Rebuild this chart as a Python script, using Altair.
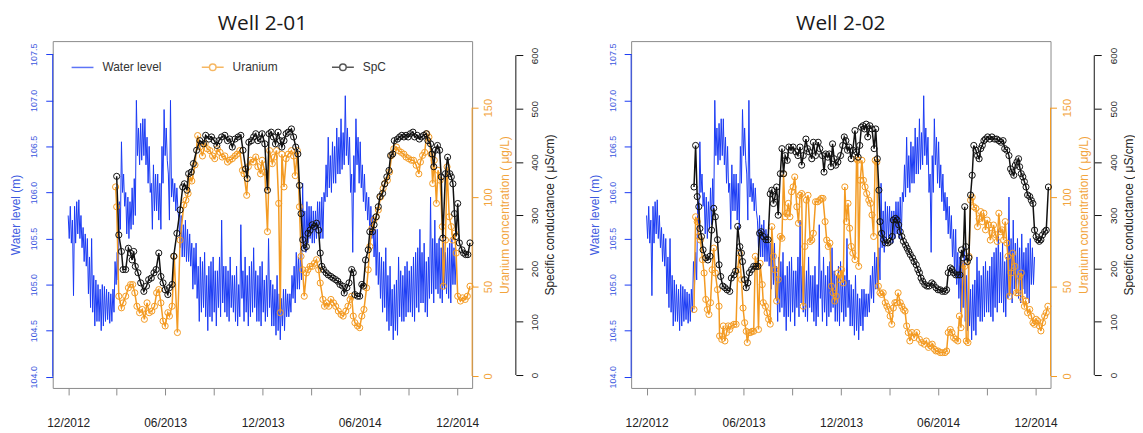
import altair as alt
import pandas as pd

START = pd.Timestamp("2012-12-01")

# ---------------- water level (m), same record shown in both panels, every 2 days from START
WL_STEP_DAYS = 2
wl_values = [
    105.75, 105.50, 105.85, 105.45, 105.70, 104.88, 105.85, 105.45, 105.90, 105.55,
    105.92, 105.50, 105.75, 105.40, 105.62, 105.25, 105.55, 105.20, 105.50, 104.90,
    105.30, 104.75, 105.50, 104.70, 105.10, 104.55, 105.05, 104.60, 105.00, 104.60,
    104.95, 104.50, 105.00, 104.55, 104.98, 104.60, 104.95, 104.62, 104.92, 104.58,
    104.90, 104.60, 104.95, 104.70, 105.25, 105.00, 105.35, 105.05, 105.90, 105.60,
    106.55, 106.00, 106.20, 105.85, 106.00, 105.55, 105.95, 105.50, 105.90, 105.60,
    106.05, 105.65, 106.15, 105.75, 107.00, 106.40, 106.70, 106.30, 106.75, 106.35,
    106.80, 106.40, 106.80, 106.30, 106.60, 106.10, 106.50, 106.00, 106.10, 105.60,
    106.30, 105.80, 106.20, 105.80, 106.20, 105.70, 106.10, 105.60, 106.50, 106.10,
    106.90, 106.40, 106.70, 106.35, 106.20, 105.70, 107.00, 105.95, 106.15, 105.90,
    106.10, 105.80, 106.05, 105.80, 105.70, 105.40, 105.75, 105.30, 105.65, 105.30,
    105.70, 105.25, 105.60, 105.25, 105.55, 105.20, 105.45, 104.95, 105.40, 105.00,
    105.45, 104.85, 105.20, 104.60, 105.30, 104.70, 105.25, 104.75, 105.35, 104.65,
    105.10, 104.50, 105.20, 104.65, 105.25, 104.60, 105.30, 104.70, 105.15, 104.55,
    105.15, 104.75, 105.30, 104.65, 105.70, 104.80, 105.20, 104.70, 105.20, 104.65,
    105.15, 104.60, 105.30, 104.75, 105.10, 104.70, 105.10, 104.60, 105.20, 104.55,
    105.00, 104.65, 105.65, 104.85, 105.15, 104.60, 105.30, 104.70, 105.10, 104.55,
    105.20, 104.65, 105.25, 104.70, 105.40, 104.75, 105.15, 104.60, 105.10, 104.60,
    105.20, 104.55, 105.25, 104.70, 105.05, 104.60, 105.10, 104.65, 105.50, 104.75,
    105.05, 104.55, 105.00, 104.55, 104.95, 104.45, 105.10, 104.50, 104.90, 104.40,
    104.85, 104.55, 104.95, 104.50, 104.95, 104.65, 104.90, 104.65, 104.90, 104.70,
    105.10, 104.85, 105.20, 104.80, 105.35, 104.95, 105.30, 104.95, 105.40, 105.05,
    106.10, 105.40, 105.80, 105.35, 105.90, 105.45, 105.85, 105.50, 105.85, 105.45,
    105.80, 105.45, 105.80, 105.50, 105.90, 105.55, 105.90, 105.50, 105.95, 105.50,
    106.00, 105.90, 106.30, 105.95, 106.60, 106.05, 106.40, 106.00, 106.55, 106.10,
    106.50, 106.10, 106.70, 106.20, 106.60, 106.20, 106.80, 106.25, 106.65, 106.30,
    107.05, 106.40, 106.70, 106.30, 106.60, 106.00, 106.20, 105.35, 106.40, 106.00,
    106.80, 106.30, 106.60, 106.10, 106.55, 106.05, 106.30, 105.90, 106.20, 105.80,
    106.00, 105.70, 105.95, 105.55, 105.85, 105.50, 105.75, 105.30, 105.60, 105.10,
    105.60, 105.00, 105.35, 104.85, 105.30, 104.70, 105.25, 104.75, 105.40, 104.60,
    105.10, 104.50, 105.20, 104.55, 104.95, 104.40, 105.00, 104.50, 105.05, 104.45,
    105.30, 104.65, 105.15, 104.60, 105.10, 104.60, 105.20, 104.65, 105.25, 104.70,
    105.15, 104.70, 105.20, 104.65, 105.30, 104.60, 105.35, 104.75, 105.40, 104.70,
    105.60, 104.80, 105.35, 104.80, 105.45, 104.70, 105.25, 104.65, 105.30, 104.85,
    105.95, 104.90, 105.50, 104.80, 105.70, 104.95, 105.45, 104.90, 105.50, 104.85,
    105.40, 104.80, 105.55, 104.95, 105.35, 104.90, 105.40, 104.85, 105.45, 104.80,
    105.50, 105.00, 105.40, 105.00, 105.30,
]

# ---------------- Well 2-01 (days after START)
u1_days = [
    89, 91, 95, 100, 103, 108, 113, 117, 121, 125,
    129, 134, 139, 143, 148, 152, 157, 162, 166, 170,
    174, 178, 182, 187, 190, 195, 199, 205, 210, 217,
    221, 225, 229, 232, 238, 243, 247, 252, 257, 261,
    266, 271, 275, 280, 285, 289, 294, 299, 303, 308,
    313, 317, 322, 327, 330, 335, 338, 342, 347, 352,
    356, 361, 364, 369, 374, 378, 383, 387, 391, 395,
    398, 401, 405, 409, 413, 419, 423, 426, 430, 434,
    437, 440, 443, 447, 450, 454, 458, 462, 466, 470,
    473, 478, 481, 485, 489, 493, 498, 502, 507, 512,
    516, 521, 525, 529, 532, 535, 538, 543, 547, 551,
    555, 560, 563, 566, 570, 574, 578, 582, 586, 591,
    594, 599, 603, 607, 611, 616, 620, 625, 630, 634,
    639, 644, 648, 653, 658, 661, 665, 669, 673, 677,
    681, 684, 687, 691, 694, 698, 702, 704, 708, 711,
    715, 719, 722, 725, 728, 731, 736, 740, 745, 749, 754,
]
u1_values = [
    105.7, 94.6, 44.6, 38.1, 40.9, 44.6, 49.3, 51.1, 51.1, 46.5,
    39.0, 35.4, 37.2, 31.7, 40.9, 35.4, 36.3, 39.0, 46.5, 48.3,
    40.9, 30.7, 28.0, 35.4, 33.5, 39.0, 66.9, 24.3, 76.0, 95.6,
    98.3, 102.0, 111.0, 109.0, 118.0, 134.4, 128.0, 123.0, 130.0, 127.0,
    126.0, 123.0, 121.5, 127.0, 125.0, 122.4, 123.0, 119.6, 120.6, 121.5,
    123.0, 124.0, 126.0, 115.0, 113.0, 101.0, 117.0, 120.6, 119.6, 122.4,
    117.0, 113.0, 120.6, 114.0, 80.7, 126.0, 118.7, 122.4, 126.0, 96.5,
    35.4, 124.0, 105.7, 121.5, 124.0, 126.0, 123.0, 112.0, 126.0, 94.6,
    66.9, 59.4, 44.6, 57.6, 59.4, 61.3, 61.3, 63.0, 65.0, 59.4,
    52.0, 42.8, 39.0, 40.9, 39.0, 42.8, 40.9, 39.0, 36.3, 34.4,
    33.5, 36.3, 39.0, 42.8, 44.6, 33.5, 29.8, 28.0, 27.0, 33.5,
    37.2, 49.3, 59.4, 72.4, 82.6, 87.2, 89.0, 92.8, 100.0, 104.8,
    107.6, 109.4, 114.0, 123.3, 127.0, 128.0, 126.0, 125.0, 124.0, 122.4,
    121.5, 120.6, 120.6, 117.8, 113.0, 119.6, 123.3, 125.0, 135.4, 133.5,
    124.0, 107.6, 120.6, 96.5, 115.0, 109.4, 83.5, 50.2, 76.0, 116.9,
    89.0, 83.5, 76.0, 79.8, 68.7, 44.6, 41.9, 43.7, 42.8, 44.6, 50.2,
]
spc1_days = [
    91, 95, 100, 103, 108, 113, 117, 120, 123, 126,
    131, 136, 142, 147, 151, 156, 161, 165, 170, 174,
    178, 182, 187, 190, 195, 198, 204, 210, 215, 218,
    223, 226, 231, 235, 241, 247, 254, 258, 264, 269,
    274, 279, 283, 288, 294, 299, 303, 308, 313, 319,
    324, 328, 333, 336, 339, 344, 348, 352, 356, 361,
    364, 369, 374, 377, 381, 385, 389, 394, 398, 401,
    405, 409, 413, 419, 423, 427, 431, 434, 437, 440,
    443, 447, 450, 454, 458, 462, 466, 470, 473, 476,
    479, 484, 488, 493, 497, 502, 506, 510, 515, 518,
    523, 527, 532, 535, 538, 543, 547, 551, 554, 558,
    563, 566, 571, 574, 578, 582, 585, 590, 594, 598,
    602, 605, 609, 612, 618, 622, 626, 630, 634, 638,
    642, 647, 650, 655, 659, 663, 667, 672, 675, 680,
    683, 686, 689, 693, 697, 700, 703, 708, 712, 716,
    719, 722, 725, 728, 731, 734, 739, 742, 746, 750, 754,
]
spc1_values = [
    373, 263, 232, 198, 198, 238, 229, 216, 232, 204,
    192, 173, 157, 167, 179, 182, 192, 198, 229, 185,
    173, 160, 151, 164, 170, 223, 266, 310, 353, 359,
    347, 378, 381, 397, 422, 440, 434, 450, 443, 447,
    440, 431, 440, 447, 450, 440, 443, 428, 443, 447,
    450, 422, 387, 369, 437, 440, 447, 453, 440, 443,
    453, 434, 347, 453, 456, 447, 434, 456, 440, 428,
    440, 453, 456, 462, 447, 428, 415, 356, 303, 254,
    238, 241, 266, 272, 282, 279, 285, 272, 229, 204,
    198, 192, 188, 185, 182, 179, 176, 170, 167, 154,
    164, 173, 198, 192, 151, 148, 148, 170, 167, 216,
    235, 269, 269, 282, 297, 316, 335, 341, 359, 372,
    384, 412, 415, 440, 443, 447, 450, 447, 450, 447,
    453, 456, 447, 450, 443, 447, 450, 453, 440, 434,
    415, 391, 422, 431, 422, 372, 257, 378, 409, 378,
    372, 359, 303, 260, 322, 248, 235, 229, 226, 226, 248,
]

# ---------------- Well 2-02 (days after START)
u2_days = [
    89, 92, 95, 98, 101, 105, 108, 111, 114, 117,
    120, 123, 126, 129, 133, 136, 137, 141, 144, 147,
    150, 153, 156, 159, 164, 168, 171, 174, 178, 181,
    184, 187, 189, 192, 195, 198, 201, 204, 207, 210,
    213, 217, 219, 223, 226, 229, 232, 235, 238, 241,
    244, 247, 251, 254, 257, 260, 263, 266, 269, 272,
    275, 278, 282, 285, 288, 291, 294, 297, 300, 303,
    307, 310, 313, 317, 321, 325, 328, 331, 335, 338,
    341, 344, 347, 350, 353, 356, 359, 363, 366, 369,
    372, 375, 378, 381, 384, 387, 391, 394, 396, 398,
    401, 404, 407, 410, 413, 417, 420, 423, 426, 429,
    432, 435, 438, 441, 444, 448, 451, 454, 457, 460,
    463, 466, 469, 472, 476, 479, 482, 485, 488, 491,
    494, 498, 502, 507, 512, 516, 521, 525, 529, 533,
    536, 540, 543, 547, 551, 555, 560, 563, 566, 570,
    573, 576, 580, 584, 587, 590, 594, 597, 600, 603,
    605, 608, 611, 614, 618, 621, 624, 627, 630, 633,
    636, 639, 642, 645, 648, 651, 655, 658, 661, 664,
    667, 670, 673, 676, 678, 681, 684, 687, 691, 694,
    697, 700, 703, 706, 709, 712, 715, 719, 722, 725,
    728, 731, 734, 737, 740, 743, 747, 750, 753,
]
u2_values = [
    37.2, 89.0, 86.3, 78.0, 76.0, 65.0, 57.6, 42.8, 37.2, 34.4,
    41.0, 59.4, 71.5, 57.6, 48.3, 39.0, 22.4, 20.5, 28.0, 19.6,
    24.3, 28.0, 26.0, 28.0, 28.9, 28.9, 59.4, 68.7, 53.9, 38.0,
    29.8, 25.0, 18.7, 24.3, 24.3, 25.0, 25.0, 66.9, 61.3, 26.0,
    63.0, 51.1, 41.0, 39.0, 35.4, 31.7, 29.0, 83.5, 66.9, 59.4,
    41.9, 53.9, 78.0, 77.0, 113.0, 89.0, 91.0, 96.5, 89.0, 103.0,
    105.7, 111.3, 94.6, 85.4, 101.0, 102.0, 39.0, 72.4, 98.3, 101.0,
    75.2, 76.0, 79.8, 97.4, 97.4, 98.3, 99.3, 99.3, 86.3, 76.0,
    72.4, 74.3, 50.2, 46.5, 41.9, 44.6, 57.6, 53.9, 59.4, 52.0,
    105.7, 86.3, 96.5, 82.6, 72.4, 68.7, 65.0, 121.5, 120.6, 61.3,
    109.4, 120.6, 109.4, 105.7, 102.0, 98.3, 96.5, 90.0, 78.0, 120.6,
    119.6, 50.2, 46.5, 45.6, 46.5, 41.0, 39.0, 37.2, 33.5, 28.9,
    38.0, 41.0, 41.0, 46.5, 41.0, 39.0, 37.2, 36.3, 28.0, 24.3,
    19.6, 24.3, 21.5, 24.3, 20.5, 18.7, 17.8, 19.6, 16.0, 16.9,
    17.8, 15.0, 14.0, 14.0, 13.1, 13.1, 13.1, 14.0, 24.3, 26.0,
    24.3, 21.5, 20.5, 19.6, 33.5, 27.0, 62.2, 61.3, 19.6, 18.7,
    66.9, 98.3, 100.0, 94.6, 93.7, 83.5, 88.0, 91.9, 86.3, 91.0,
    81.7, 87.2, 84.4, 76.0, 79.8, 84.4, 79.0, 75.2, 91.0, 80.7,
    81.7, 76.0, 86.3, 74.3, 66.9, 44.6, 57.6, 68.7, 61.3, 46.5,
    46.5, 55.7, 57.6, 42.8, 39.0, 41.9, 35.4, 37.2, 33.5, 29.8,
    28.9, 31.7, 30.8, 28.0, 25.2, 29.8, 33.5, 35.4, 39.0,
]
spc2_days = [
    89, 92, 95, 98, 100, 103, 106, 111, 115, 119,
    122, 126, 129, 133, 136, 139, 143, 147, 151, 156,
    159, 164, 167, 171, 175, 178, 180, 184, 187, 190,
    193, 197, 201, 205, 209, 212, 215, 219, 224, 228,
    232, 235, 238, 241, 244, 247, 251, 254, 257, 260,
    264, 267, 271, 275, 280, 284, 288, 291, 294, 299,
    302, 305, 310, 313, 317, 322, 325, 330, 333, 336,
    340, 343, 346, 349, 352, 355, 359, 364, 368, 371,
    374, 377, 380, 384, 387, 391, 394, 397, 400, 403,
    406, 409, 412, 415, 419, 423, 427, 430, 433, 436,
    438, 441, 445, 448, 453, 457, 461, 463, 467, 470,
    473, 476, 479, 482, 486, 489, 492, 495, 499, 502,
    506, 509, 512, 515, 518, 522, 526, 530, 535, 538,
    543, 547, 551, 555, 560, 563, 566, 570, 573, 576,
    580, 584, 588, 591, 594, 597, 599, 602, 605, 608,
    611, 614, 618, 621, 624, 627, 630, 633, 636, 640,
    644, 648, 653, 657, 661, 665, 669, 672, 676, 680,
    683, 686, 689, 692, 695, 698, 700, 703, 706, 709,
    712, 715, 719, 722, 725, 728, 731, 734, 737, 740,
    743, 747, 750, 754,
]
spc2_values = [
    353, 431, 335, 316, 275, 260, 235, 220, 216, 223,
    272, 313, 297, 254, 207, 185, 167, 164, 160, 157,
    182, 188, 195, 279, 241, 229, 213, 179, 164, 173,
    192, 198, 204, 204, 204, 266, 269, 260, 254, 254,
    340, 347, 322, 335, 353, 300, 378, 425, 378, 412,
    403, 428, 422, 428, 419, 412, 428, 394, 412, 443,
    425, 419, 406, 437, 412, 437, 425, 412, 381, 415,
    409, 415, 391, 434, 406, 394, 400, 412, 431, 447,
    440, 422, 428, 406, 422, 459, 419, 409, 431, 465,
    468, 462, 471, 447, 468, 462, 425, 462, 406, 347,
    288, 266, 254, 248, 248, 251, 260, 291, 294, 291,
    282, 269, 260, 251, 244, 238, 232, 226, 220, 213,
    207, 198, 192, 182, 176, 170, 167, 167, 173, 170,
    164, 160, 160, 157, 157, 160, 192, 201, 198, 192,
    188, 188, 188, 235, 220, 316, 241, 213, 220, 338,
    375, 431, 422, 412, 406, 425, 431, 440, 443, 447,
    443, 447, 443, 443, 440, 437, 440, 425, 422, 412,
    387, 381, 375, 394, 400, 406, 391, 378, 372, 363,
    353, 338, 335, 328, 322, 272, 260, 254, 251, 254,
    263, 269, 272, 353,
]

TITLES = ["Well 2-01", "Well 2-02"]
SERIES = ["Water level", "Uranium", "SpC"]
WL_TICKS = [104.0, 104.5, 105.0, 105.5, 106.0, 106.5, 107.0, 107.5]
U_TICKS = [0, 50, 100, 150]
SPC_TICKS = [0, 100, 200, 300, 400, 500, 600]
TICK_MONTHS = [(2012, 12), (2013, 3), (2013, 6), (2013, 9), (2013, 12),
               (2014, 3), (2014, 6), (2014, 9), (2014, 12)]

# ---------------- style
BLUE = "#1a3af4"
BLUE_TXT = "#3d5ae0"
ORANGE = "#f39a22"
ORANGE_TXT = "#f2a43c"
BLACK = "#111111"
GRAY = "#8a8a8a"
FONT = "Liberation Sans"
PW, PH = 422, 349

LINE_SYM = "M-1,0L1,0"
LINE_CIRCLE_SYM = ("M-1,0L-0.3,0M0.3,0L1,0M0.3,0A0.3,0.3,0,1,1,-0.3,0"
                   "A0.3,0.3,0,1,1,0.3,0")


def dated(days, values, col):
    return pd.DataFrame({"date": [START + pd.Timedelta(days=d) for d in days], col: values})


wl_df = pd.DataFrame({
    "date": pd.date_range(START, periods=len(wl_values), freq=f"{WL_STEP_DAYS}D"),
    "wl": wl_values,
})

x_enc = alt.X(
    "date:T", title=None,
    scale=alt.Scale(domain=[alt.DateTime(year=2012, month=11, date=2),
                            alt.DateTime(year=2014, month=12, date=29)]),
    axis=alt.Axis(
        values=[alt.DateTime(year=y, month=m, date=1) for y, m in TICK_MONTHS],
        labelExpr="month(datum.value) % 6 == 5 ? timeFormat(datum.value, '%m/%Y') : ''",
        domain=False, grid=False, tickColor=GRAY, tickSize=7, tickWidth=1,
        labelFont=FONT, labelFontSize=12, labelColor="#222222", labelPadding=23,
        labelOverlap=False, labelFlush=False,
    ),
)

wl_axis = alt.Axis(
    orient="left", values=WL_TICKS, format=".1f", domain=False, grid=False,
    tickColor=BLUE, tickSize=7, labelAngle=270, labelAlign="center", labelBaseline="bottom",
    labelColor=BLUE_TXT, labelFont=FONT, labelFontSize=9, labelPadding=7,
    labelOverlap=False, labelFlush=False,
    title="Water level (m)", titleColor=BLUE_TXT, titleFont=FONT, titleFontSize=12,
    titleFontWeight="normal", titleAngle=270, titleX=-37, titleY=PH / 2,
    titleAlign="center", titleBaseline="middle",
)
u_axis = alt.Axis(
    orient="right", values=U_TICKS, domain=False, grid=False,
    tickColor=ORANGE, tickSize=6, labelAngle=270, labelAlign="center", labelBaseline="top",
    labelColor=ORANGE_TXT, labelFont=FONT, labelFontSize=11, labelPadding=5,
    labelOverlap=False, labelFlush=False,
    title="Uranium concentration ( \u03bcg/L)", titleColor=ORANGE_TXT, titleFont=FONT,
    titleFontSize=12, titleFontWeight="normal", titleAngle=270, titleX=33, titleY=PH / 2,
    titleAlign="center", titleBaseline="middle",
)
spc_axis = alt.Axis(
    orient="right", offset=44, values=SPC_TICKS, domain=False, grid=False,
    tickColor=BLACK, tickSize=7, labelAngle=270, labelAlign="center", labelBaseline="top",
    labelColor="#222222", labelFont=FONT, labelFontSize=10, labelPadding=7,
    labelOverlap=False, labelFlush=False,
    title="Specific conductance ( \u03bcS/cm)", titleColor="#222222", titleFont=FONT,
    titleFontSize=12, titleFontWeight="normal", titleAngle=270, titleX=34, titleY=PH / 2,
    titleAlign="center", titleBaseline="middle",
)

wl_scale = alt.Scale(domain=[103.878, 107.643], nice=False, zero=False)
u_scale = alt.Scale(domain=[-6.67, 187.2], nice=False, zero=False)
spc_scale = alt.Scale(domain=[-24.3, 626.9], nice=False, zero=False)


def axis_rule(lo, hi, scale, axis, xpos, color):
    df = pd.DataFrame({"lo": [lo], "hi": [hi]})
    return alt.Chart(df).mark_rule(color=color, strokeWidth=1).encode(
        x=alt.value(xpos),
        y=alt.Y("lo:Q", scale=scale, axis=axis),
        y2="hi:Q",
    )


def panel(title, u_days, u_vals, spc_days, spc_vals):
    u_df = dated(u_days, u_vals, "u")
    spc_df = dated(spc_days, spc_vals, "spc")

    wl_y = alt.Y("wl:Q", scale=wl_scale, axis=wl_axis)
    wl_group = alt.layer(
        alt.Chart(wl_df).mark_line(color=BLUE, strokeWidth=1, strokeJoin="round").encode(x=x_enc, y=wl_y),
        axis_rule(WL_TICKS[0], WL_TICKS[-1], wl_scale, wl_axis, 0, BLUE),
    )

    u_y = alt.Y("u:Q", scale=u_scale, axis=u_axis)
    u_group = alt.layer(
        alt.Chart(u_df).mark_line(color=ORANGE, strokeWidth=1.5).encode(x=x_enc, y=u_y),
        alt.Chart(u_df).mark_point(color=ORANGE, size=38, strokeWidth=1, filled=False, opacity=1).encode(x=x_enc, y=u_y),
        axis_rule(U_TICKS[0], U_TICKS[-1], u_scale, u_axis, PW, ORANGE),
    )

    spc_y = alt.Y("spc:Q", scale=spc_scale, axis=spc_axis)
    spc_group = alt.layer(
        alt.Chart(spc_df).mark_line(color=BLACK, strokeWidth=1.5).encode(x=x_enc, y=spc_y),
        alt.Chart(spc_df).mark_point(color=BLACK, size=38, strokeWidth=1, filled=False, opacity=1).encode(x=x_enc, y=spc_y),
        axis_rule(SPC_TICKS[0], SPC_TICKS[-1], spc_scale, spc_axis, PW + 44, BLACK),
    )

    leg = alt.Legend(
        title=None, orient="none", legendX=18, legendY=14, direction="horizontal",
        columns=3, symbolSize=484, symbolStrokeWidth=1.5, labelFont=FONT,
        labelFontSize=12, labelColor="#333333", labelOffset=8, columnPadding=37,
        gridAlign="all", padding=0,
    )
    legend_layer = alt.Chart(pd.DataFrame({"series": SERIES})).transform_filter(
        "datum.series == 'none'"
    ).mark_point(filled=False, strokeWidth=1.5).encode(
        color=alt.Color("series:N", scale=alt.Scale(domain=SERIES, range=[BLUE, ORANGE, BLACK]), legend=leg),
        shape=alt.Shape("series:N", scale=alt.Scale(domain=SERIES, range=[LINE_SYM, LINE_CIRCLE_SYM, LINE_CIRCLE_SYM]), legend=leg),
    )

    return alt.layer(wl_group, u_group, spc_group, legend_layer).resolve_scale(
        y="independent"
    ).properties(
        width=PW, height=PH,
        title=alt.TitleParams(text=title, font="Open Sans", fontSize=21, fontWeight="normal",
                              color="#1a1a1a", anchor="middle", frame="group", offset=7),
    )


p1 = panel(TITLES[0], u1_days, u1_values, spc1_days, spc1_values)
p2 = panel(TITLES[1], u2_days, u2_values, spc2_days, spc2_values)

chart = alt.hconcat(p1, p2, spacing=160, bounds="flush").properties(
    padding={"left": 1, "top": 3, "right": 0, "bottom": 0}
).configure_view(stroke=GRAY, strokeWidth=1)

chart.save("out.html", embed_options={"renderer": "svg", "actions": False})
